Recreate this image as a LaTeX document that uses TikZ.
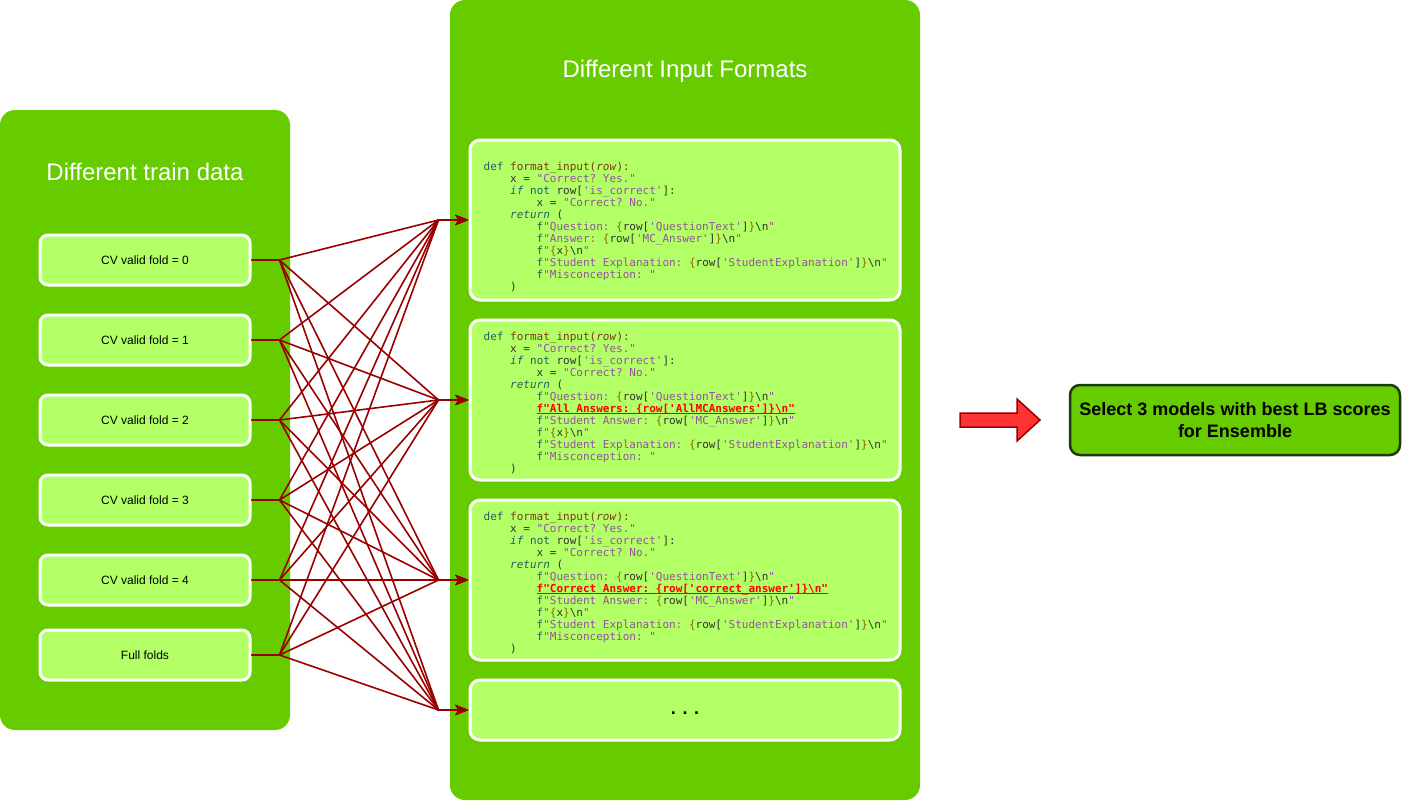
\documentclass[tikz,border=0pt]{standalone}
\usepackage{fontspec}
\setmainfont{Liberation Sans}
\setmonofont{DejaVu Sans Mono}
\usepackage{xcolor}
\usepackage{tikz}
\usetikzlibrary{arrows.meta,positioning}

\definecolor{panelgreen}{HTML}{66CC00}
\definecolor{boxgreen}{HTML}{B3FF66}
\definecolor{linkred}{HTML}{990000}
\definecolor{bigred}{HTML}{FF3333}
\definecolor{selborder}{HTML}{1E3A0A}
\definecolor{codetxt}{HTML}{333333}
\definecolor{codekw}{HTML}{1F6262}
\definecolor{codefn}{HTML}{7A3A14}
\definecolor{codestr}{HTML}{9552A0}
\definecolor{codebr}{HTML}{8A6A00}

\newcommand{\kw}[1]{\textcolor{codekw}{#1}}
\newcommand{\fnm}[1]{\textcolor{codefn}{#1}}
\newcommand{\cstr}[1]{\textcolor{codestr}{#1}}
\newcommand{\brc}[1]{\textcolor{codebr}{#1}}
\newcommand{\cind}{\phantom{xxxx}}
\newcommand{\bsn}{\textbackslash n}
\newcommand{\redline}[1]{\textcolor{red}{\bfseries\setbox0\hbox{#1}\rlap{\rule[-2pt]{\wd0}{0.9pt}}\box0}}

\tikzset{
  panel/.style={fill=panelgreen, rounded corners=15pt},
  paneltitle/.style={text=white, font=\fontsize{24}{28}\selectfont},
  fold/.style={draw=white, line width=3pt, fill=boxgreen, rounded corners=8pt,
    minimum width=210pt, minimum height=50pt, font=\fontsize{12}{14}\selectfont},
  fmtbox/.style={draw=white, line width=3pt, fill=boxgreen, rounded corners=10pt,
    minimum width=430pt, minimum height=160pt},
  codetext/.style={anchor=north west, inner sep=0pt, align=left, text=codetxt,
    font=\ttfamily\frenchspacing\fontsize{11}{12}\selectfont},
  link/.style={draw=linkred, line width=1.6pt,
    -{Stealth[length=13pt,width=10pt,inset=3pt]}},
  selbox/.style={draw=selborder, line width=2.5pt, fill=panelgreen, rounded corners=10pt,
    minimum width=330pt, minimum height=70pt, align=center,
    font=\bfseries\fontsize{18}{22}\selectfont}
}

\begin{document}
\begin{tikzpicture}[x=1pt,y=-1pt]
\useasboundingbox (0,0) rectangle (1402,801);

% panels
\fill[panel] (0,110) rectangle (290,730);
\fill[panel] (450,0) rectangle (920,800);
\node[paneltitle] (traintitle) at (145,172) {Different train data};
\node[paneltitle] (fmttitle) at (685,71) {Different Input Formats};

% train data
\foreach \i in {0,...,4}
  \node[fold] (td\i) at (145,260+80*\i) {CV valid fold = \i};
\node[fold, below=22pt of td4] (td5) {Full folds};

% input formats
\node[fmtbox] (fmt1) at (685,220) {};
\node[fmtbox, below=17pt of fmt1] (fmt2) {};
\node[fmtbox, below=17pt of fmt2] (fmt3) {};
\node[fmtbox, below=17pt of fmt3, minimum height=60pt] (fmt4) {\smash{\raisebox{-4pt}{\textbf{\fontsize{18}{20}\selectfont . . .}}}};

\node[codetext] (code1) at ([xshift=15pt,yshift=-23.5pt]fmt1.north west) {%
\kw{def} \fnm{format\_input(\textit{row}):}\\
\cind x = \cstr{"Correct? Yes."}\\
\cind\kw{\textit{if} not} row[\cstr{'is\_correct'}]:\\
\cind\cind x = \cstr{"Correct? No."}\\
\cind\kw{\textit{return}} (\\
\cind\cind\kw{f}\cstr{"Question: }\brc{\{}row[\cstr{'QuestionText'}]\brc{\}}\bsn\cstr{"}\\
\cind\cind\kw{f}\cstr{"Answer: }\brc{\{}row[\cstr{'MC\_Answer'}]\brc{\}}\bsn\cstr{"}\\
\cind\cind\kw{f}\cstr{"}\brc{\{}x\brc{\}}\bsn\cstr{"}\\
\cind\cind\kw{f}\cstr{"Student Explanation: }\brc{\{}row[\cstr{'StudentExplanation'}]\brc{\}}\bsn\cstr{"}\\
\cind\cind\kw{f}\cstr{"Misconception: "}\\
\cind)};

\node[codetext] (code2) at ([xshift=15pt,yshift=-13pt]fmt2.north west) {%
\kw{def} \fnm{format\_input(\textit{row}):}\\
\cind x = \cstr{"Correct? Yes."}\\
\cind\kw{\textit{if} not} row[\cstr{'is\_correct'}]:\\
\cind\cind x = \cstr{"Correct? No."}\\
\cind\kw{\textit{return}} (\\
\cind\cind\kw{f}\cstr{"Question: }\brc{\{}row[\cstr{'QuestionText'}]\brc{\}}\bsn\cstr{"}\\
\cind\cind\redline{f"All Answers: \{row['AllMCAnswers']\}\bsn"}\\
\cind\cind\kw{f}\cstr{"Student Answer: }\brc{\{}row[\cstr{'MC\_Answer'}]\brc{\}}\bsn\cstr{"}\\
\cind\cind\kw{f}\cstr{"}\brc{\{}x\brc{\}}\bsn\cstr{"}\\
\cind\cind\kw{f}\cstr{"Student Explanation: }\brc{\{}row[\cstr{'StudentExplanation'}]\brc{\}}\bsn\cstr{"}\\
\cind\cind\kw{f}\cstr{"Misconception: "}\\
\cind)};

\node[codetext] (code3) at ([xshift=15pt,yshift=-13pt]fmt3.north west) {%
\kw{def} \fnm{format\_input(\textit{row}):}\\
\cind x = \cstr{"Correct? Yes."}\\
\cind\kw{\textit{if} not} row[\cstr{'is\_correct'}]:\\
\cind\cind x = \cstr{"Correct? No."}\\
\cind\kw{\textit{return}} (\\
\cind\cind\kw{f}\cstr{"Question: }\brc{\{}row[\cstr{'QuestionText'}]\brc{\}}\bsn\cstr{"}\\
\cind\cind\redline{f"Correct Answer: \{row['correct\_answer']\}\bsn"}\\
\cind\cind\kw{f}\cstr{"Student Answer: }\brc{\{}row[\cstr{'MC\_Answer'}]\brc{\}}\bsn\cstr{"}\\
\cind\cind\kw{f}\cstr{"}\brc{\{}x\brc{\}}\bsn\cstr{"}\\
\cind\cind\kw{f}\cstr{"Student Explanation: }\brc{\{}row[\cstr{'StudentExplanation'}]\brc{\}}\bsn\cstr{"}\\
\cind\cind\kw{f}\cstr{"Misconception: "}\\
\cind)};

% every train set with every format
\foreach \s in {0,...,5}
  \foreach \t in {1,...,4}
    \draw[link] (td\s.east) -- ++(28pt,0) -- ([xshift=-30pt]fmt\t.west) -- (fmt\t.west);

% big arrow and result
\draw[fill=bigred, draw=linkred, line width=1.5pt, line join=miter]
  (960,413) -- (1017,413) -- (1017,399) -- (1040,420) -- (1017,441) -- (1017,427) -- (960,427) -- cycle;
\node[selbox] (select) at (1235,420) {Select 3 models with best LB scores\\for Ensemble};

\end{tikzpicture}
\end{document}
